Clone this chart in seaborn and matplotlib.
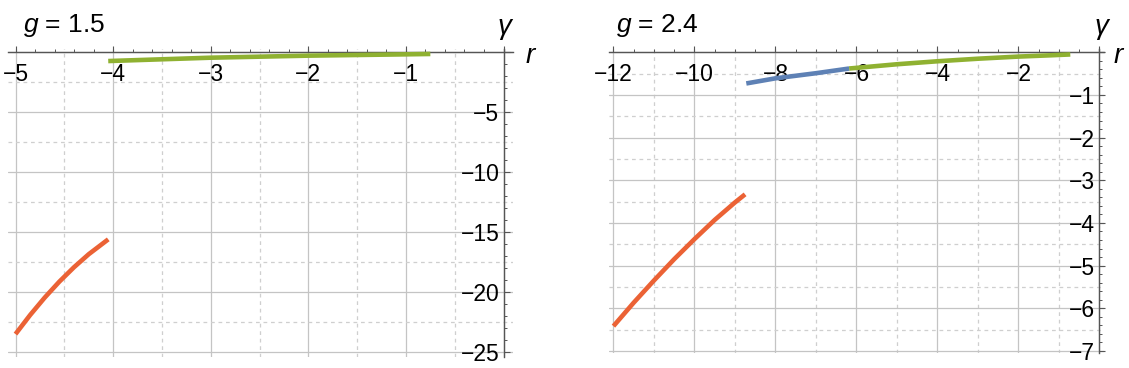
import numpy as np
import pandas as pd
import seaborn as sns
import matplotlib.pyplot as plt
from matplotlib.ticker import MultipleLocator, FuncFormatter

sns.set_style("white")
plt.rcParams['font.family'] = ['Liberation Sans', 'DejaVu Sans']
plt.rcParams['mathtext.fontset'] = 'custom'
plt.rcParams['mathtext.it'] = 'Liberation Sans:italic'
plt.rcParams['mathtext.rm'] = 'Liberation Sans'
plt.rcParams['text.color'] = 'black'

# panel g = 1.5
g_left = "1.5"
left_green_r = [-4.05, -3.0, -2.0, -1.0, -0.75]
left_green_gamma = [-0.73, -0.45, -0.28, -0.17, -0.14]
left_orange_r = [-5.0, -4.85, -4.7, -4.55, -4.4, -4.25, -4.05]
left_orange_gamma = [-23.5, -21.91, -20.45, -19.12, -17.92, -16.84, -15.6]

# panel g = 2.4
g_right = "2.4"
right_blue_r = [-8.72, -8.0, -7.0, -6.18]
right_blue_gamma = [-0.73, -0.61, -0.49, -0.38]
right_green_r = [-6.18, -5.0, -4.0, -3.0, -2.0, -1.2, -0.72]
right_green_gamma = [-0.38, -0.28, -0.21, -0.15, -0.10, -0.07, -0.05]
right_orange_r = [-12.0, -11.5, -11.0, -10.5, -10.0, -9.5, -9.0, -8.75]
right_orange_gamma = [-6.42, -5.87, -5.35, -4.85, -4.38, -3.93, -3.52, -3.33]

ORANGE = "#EB6235"
GREEN = "#8FB131"
BLUE = "#5E81B5"
W = 1129.0
H = 368.0


def fmt(v, pos):
    if abs(v) < 1e-9:
        return ""
    return "{:.0f}".format(v).replace("-", "\u2212")


def style_axes(ax, xlim, ylim, xmaj, xmin, ymaj, ymin):
    ax.set_xlim(xlim)
    ax.set_ylim(ylim)
    # gridlines: solid on major, dashed half way between
    for x in np.arange(0, xlim[0] - 1e-9, -xmaj):
        ax.axvline(x, color="#c4c4c4", lw=0.9, zorder=0)
        ax.axvline(x - xmaj / 2, color="#cfcfcf", lw=0.9, ls=(0, (3, 3)), zorder=0)
    for y in np.arange(0, ylim[0] - 1e-9, -ymaj):
        ax.axhline(y, color="#c4c4c4", lw=0.9, zorder=0)
        ax.axhline(y - ymaj / 2, color="#cfcfcf", lw=0.9, ls=(0, (3, 3)), zorder=0)
    ax.spines['bottom'].set_position(('data', 0))
    ax.spines['left'].set_position(('data', 0))
    ax.spines['top'].set_visible(False)
    ax.spines['right'].set_visible(False)
    for s in ('bottom', 'left'):
        ax.spines[s].set_color("#555555")
        ax.spines[s].set_linewidth(1.0)
        ax.spines[s].set_zorder(5)
    ax.xaxis.set_major_locator(MultipleLocator(xmaj))
    ax.xaxis.set_minor_locator(MultipleLocator(xmin))
    ax.yaxis.set_major_locator(MultipleLocator(ymaj))
    ax.yaxis.set_minor_locator(MultipleLocator(ymin))
    ax.xaxis.set_major_formatter(FuncFormatter(fmt))
    ax.yaxis.set_major_formatter(FuncFormatter(fmt))
    ax.tick_params(axis='x', which='major', direction='in', length=4, width=0.8,
                   color="#555555", labelcolor='black', pad=8, labelsize=16.5,
                   bottom=True)
    ax.tick_params(axis='x', which='minor', direction='in', length=2.5, width=0.7,
                   color="#555555", bottom=True)
    ax.tick_params(axis='y', which='major', direction='in', length=4, width=0.8,
                   color="#555555", labelcolor='black', pad=3, labelsize=16.5,
                   left=True)
    ax.tick_params(axis='y', which='minor', direction='in', length=2.5, width=0.7,
                   color="#555555", left=True)
    ax.set_xlabel("")
    ax.set_ylabel("")


fig = plt.figure(figsize=(W / 100, H / 100), dpi=100)
ax1 = fig.add_axes([7.7 / W, 1 - 357.1 / H, 505.6 / W, 308.4 / H])
ax2 = fig.add_axes([609.4 / W, 1 - 353.0 / H, 494.1 / W, 304.1 / H])
for ax in (ax1, ax2):
    ax.patch.set_alpha(0)

lw = 3.3
sns.lineplot(x=left_orange_r, y=left_orange_gamma, ax=ax1, color=ORANGE, lw=lw,
             sort=False, estimator=None, solid_capstyle='butt', zorder=6)
sns.lineplot(x=left_green_r, y=left_green_gamma, ax=ax1, color=GREEN, lw=lw,
             sort=False, estimator=None, solid_capstyle='butt', zorder=6)
style_axes(ax1, (-5.08, 0.1), (-25.42, 0.3), 1, 0.2, 5, 1)

sns.lineplot(x=right_orange_r, y=right_orange_gamma, ax=ax2, color=ORANGE, lw=lw,
             sort=False, estimator=None, solid_capstyle='butt', zorder=6)
sns.lineplot(x=right_blue_r, y=right_blue_gamma, ax=ax2, color=BLUE, lw=lw,
             sort=False, estimator=None, solid_capstyle='butt', zorder=6)
sns.lineplot(x=right_green_r, y=right_green_gamma, ax=ax2, color=GREEN, lw=lw,
             sort=False, estimator=None, solid_capstyle='butt', zorder=6)
style_axes(ax2, (-12.1, 0.1), (-7.05, 0.08), 2, 0.5, 1, 0.2)

# titles and axis labels
fig.text(23 / W, 1 - 32 / H, r"$g$ = " + g_left, fontsize=19, va='baseline')
fig.text(616 / W, 1 - 32 / H, r"$g$ = " + g_right, fontsize=19, va='baseline')
for gx, rx in ((504, 530), (1101, 1118)):
    fig.text(gx / W, 1 - 27 / H, "\u03b3", fontsize=20, style='italic',
             ha='center', va='center')
    fig.text(rx / W, 1 - 56 / H, "r", fontsize=20, style='italic',
             ha='center', va='center')

plt.savefig("out.png", dpi=100)
